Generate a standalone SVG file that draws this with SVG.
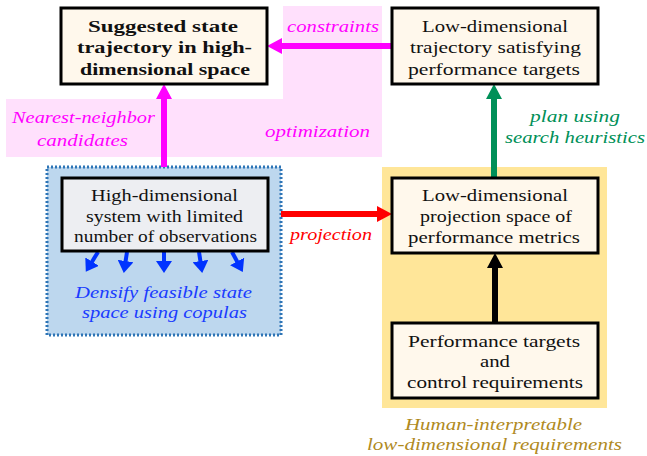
<svg xmlns="http://www.w3.org/2000/svg" width="647" height="456" viewBox="0 0 647 456">
<style>
.box{fill:#fff8ec;stroke:#000;stroke-width:3}
text{font-family:"Liberation Serif","DejaVu Serif",serif;font-size:17px;text-anchor:middle}
.t{fill:#111}
.b{font-weight:bold}
.i{font-style:italic}
</style>
<defs>
<marker id="hm" markerUnits="userSpaceOnUse" markerWidth="16" markerHeight="16" refX="5" refY="8" orient="auto"><path d="M0,0 L15,8 L0,16 z" fill="#ff00ff"/></marker>
<marker id="hr" markerUnits="userSpaceOnUse" markerWidth="16" markerHeight="16" refX="5" refY="8" orient="auto"><path d="M0,0 L15,8 L0,16 z" fill="#ff0000"/></marker>
<marker id="hg" markerUnits="userSpaceOnUse" markerWidth="16" markerHeight="16" refX="5" refY="8" orient="auto"><path d="M0,0 L15,8 L0,16 z" fill="#009058"/></marker>
<marker id="hk" markerUnits="userSpaceOnUse" markerWidth="16" markerHeight="16" refX="5" refY="8" orient="auto"><path d="M0,0 L15,8 L0,16 z" fill="#000"/></marker>
<marker id="hb" markerUnits="userSpaceOnUse" markerWidth="16" markerHeight="16" refX="4" refY="8" orient="auto"><path d="M0,0 L12,8 L0,16 z" fill="#0033ff"/></marker>
</defs>

<path id="opt-region" d="M283,6 H382 V157 H6 V99 H283 Z" fill="#ffe0fc"/>
<rect id="densify-region" x="47" y="167" width="234" height="168" fill="#bdd7ee" stroke="#2e75b6" stroke-width="3" stroke-dasharray="2,2"/>
<rect id="human-region" x="382" y="167" width="225" height="241" fill="#ffe699"/>

<g id="connectors">
<line x1="392" y1="46" x2="277" y2="46" stroke="#ff00ff" stroke-width="6" marker-end="url(#hm)"/>
<line x1="164" y1="167" x2="164" y2="94" stroke="#ff00ff" stroke-width="6" marker-end="url(#hm)"/>
<line x1="281" y1="214" x2="382" y2="214" stroke="#ff0000" stroke-width="6" marker-end="url(#hr)"/>
<line x1="494" y1="178" x2="494" y2="94" stroke="#009058" stroke-width="6" marker-end="url(#hg)"/>
<line x1="495" y1="323" x2="495" y2="263" stroke="#000" stroke-width="6" marker-end="url(#hk)"/>
<g stroke="#0033ff" stroke-width="4">
<line x1="98" y1="252" x2="90" y2="265" marker-end="url(#hb)"/>
<line x1="127" y1="252" x2="125" y2="265" marker-end="url(#hb)"/>
<line x1="164" y1="252" x2="164" y2="265" marker-end="url(#hb)"/>
<line x1="199" y1="252" x2="201" y2="265" marker-end="url(#hb)"/>
<line x1="232" y1="252" x2="239" y2="265" marker-end="url(#hb)"/>
</g>
</g>

<g id="labels" class="i">
<text x="333" y="32" fill="#ff00ff" textLength="92" lengthAdjust="spacingAndGlyphs">constraints</text>
<text x="83.5" y="123" fill="#ff00ff" textLength="143" lengthAdjust="spacingAndGlyphs">Nearest-neighbor</text>
<text x="82.5" y="146" fill="#ff00ff" textLength="91" lengthAdjust="spacingAndGlyphs">candidates</text>
<text x="317.5" y="137" fill="#ff00ff" textLength="105" lengthAdjust="spacingAndGlyphs">optimization</text>
<text x="331" y="240" fill="#ff0000" textLength="82" lengthAdjust="spacingAndGlyphs">projection</text>
<text x="575" y="122" fill="#009058" textLength="90" lengthAdjust="spacingAndGlyphs">plan using</text>
<text x="575" y="143" fill="#009058" textLength="140" lengthAdjust="spacingAndGlyphs">search heuristics</text>
<text x="163.5" y="298" fill="#1a3cff" textLength="177" lengthAdjust="spacingAndGlyphs">Densify feasible state</text>
<text x="164.5" y="318" fill="#1a3cff" textLength="165" lengthAdjust="spacingAndGlyphs">space using copulas</text>
<text x="493.5" y="430" fill="#b08a1e" textLength="177" lengthAdjust="spacingAndGlyphs">Human-interpretable</text>
<text x="494.5" y="450" fill="#b08a1e" textLength="255" lengthAdjust="spacingAndGlyphs">low-dimensional requirements</text>
</g>

<g id="suggested">
<rect class="box" x="61" y="8" width="206" height="76"/>
<text class="t b" x="163" y="32" textLength="150" lengthAdjust="spacingAndGlyphs">Suggested state</text>
<text class="t b" x="164.5" y="53" textLength="175" lengthAdjust="spacingAndGlyphs">trajectory in high-</text>
<text class="t b" x="165" y="75" textLength="170" lengthAdjust="spacingAndGlyphs">dimensional space</text>
</g>
<g id="lowtraj">
<rect class="box" x="392" y="8" width="206" height="76"/>
<text class="t" x="495" y="32" textLength="146" lengthAdjust="spacingAndGlyphs">Low-dimensional</text>
<text class="t" x="495.5" y="53" textLength="171" lengthAdjust="spacingAndGlyphs">trajectory satisfying</text>
<text class="t" x="494" y="75" textLength="172" lengthAdjust="spacingAndGlyphs">performance targets</text>
</g>
<g id="highsys">
<rect x="62" y="178" width="206" height="73" fill="#edeef2" stroke="#000" stroke-width="3"/>
<text class="t" x="164.5" y="201" textLength="147" lengthAdjust="spacingAndGlyphs">High-dimensional</text>
<text class="t" x="164.5" y="222" textLength="157" lengthAdjust="spacingAndGlyphs">system with limited</text>
<text class="t" x="165.5" y="242" textLength="183" lengthAdjust="spacingAndGlyphs">number of observations</text>
</g>
<g id="projspace">
<rect class="box" x="392" y="178" width="206" height="75"/>
<text class="t" x="495" y="201" textLength="146" lengthAdjust="spacingAndGlyphs">Low-dimensional</text>
<text class="t" x="496" y="222" textLength="152" lengthAdjust="spacingAndGlyphs">projection space of</text>
<text class="t" x="494" y="243" textLength="172" lengthAdjust="spacingAndGlyphs">performance metrics</text>
</g>
<g id="targets">
<rect class="box" x="392" y="323" width="206" height="75"/>
<text class="t" x="494" y="347" textLength="172" lengthAdjust="spacingAndGlyphs">Performance targets</text>
<text class="t" x="495" y="367" textLength="30" lengthAdjust="spacingAndGlyphs">and</text>
<text class="t" x="495" y="388" textLength="176" lengthAdjust="spacingAndGlyphs">control requirements</text>
</g>
</svg>
